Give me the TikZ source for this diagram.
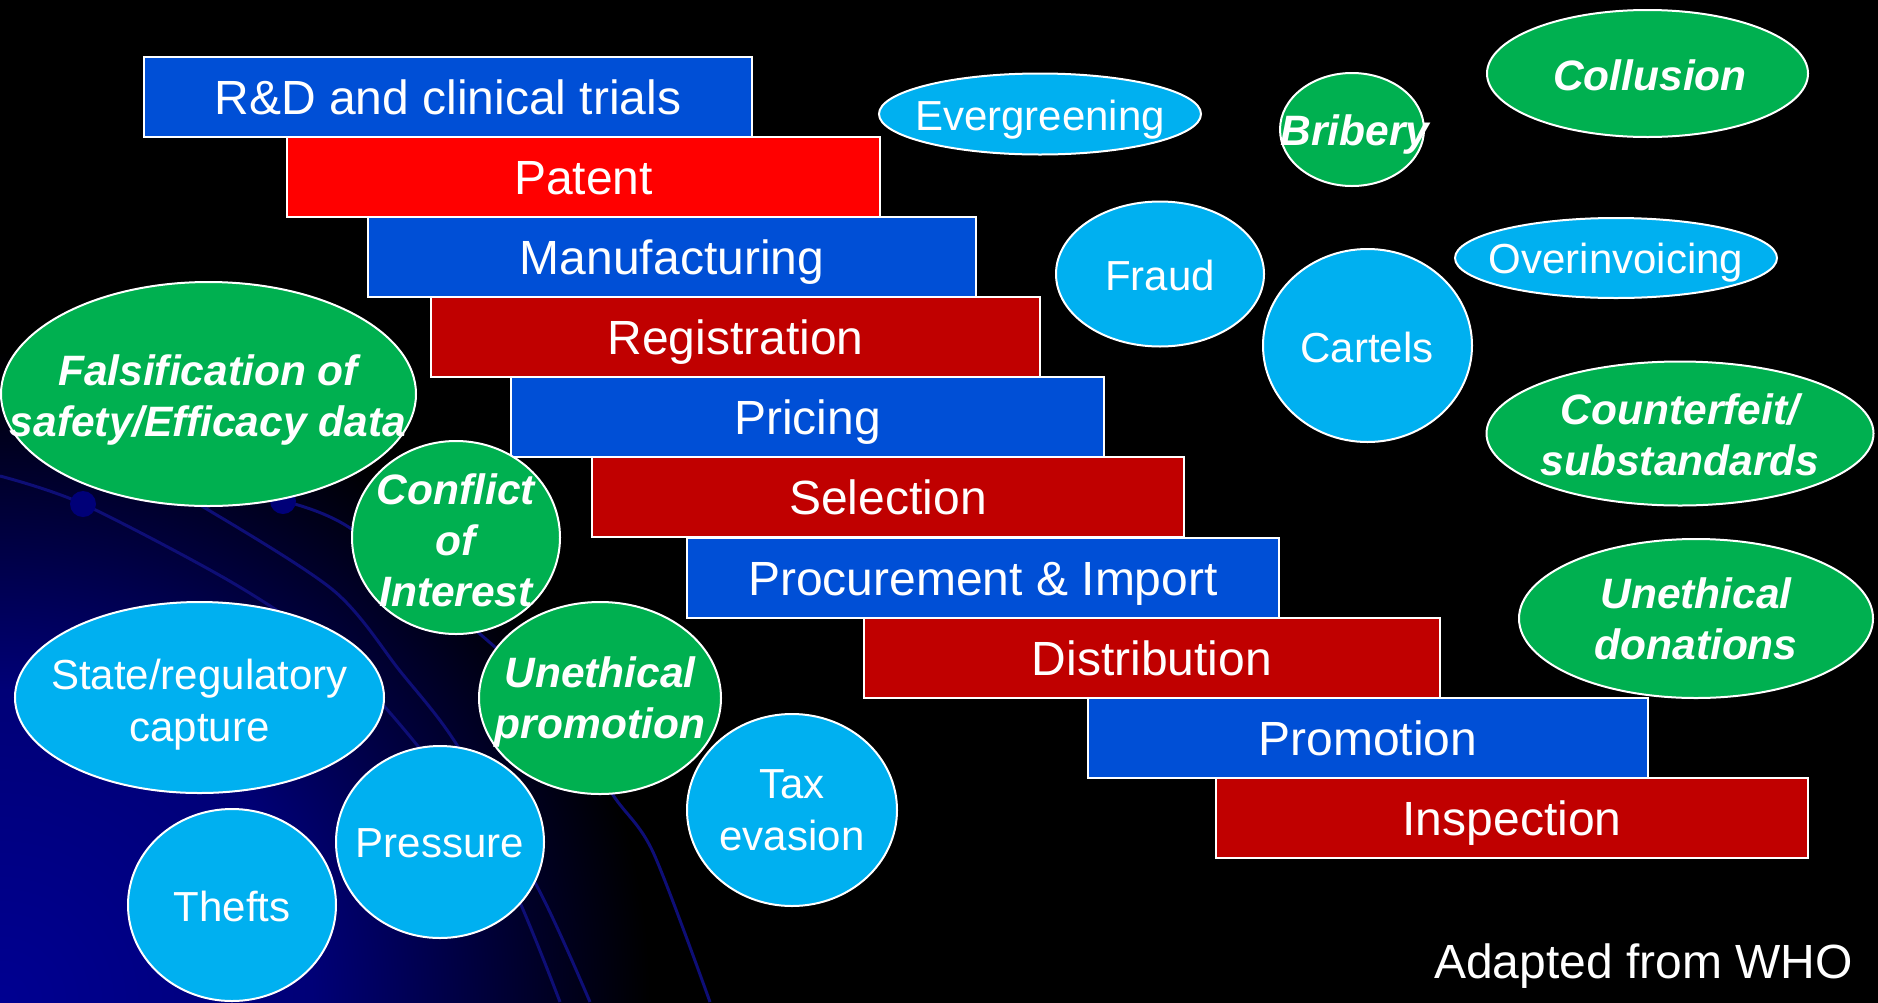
\documentclass[tikz,border=0pt]{standalone}
\usepackage{fontspec}
\setmainfont{Liberation Sans}
\usetikzlibrary{shapes.geometric}

\definecolor{stageblue}{RGB}{0,79,214}
\definecolor{stagered}{RGB}{192,0,0}
\definecolor{patentred}{RGB}{255,0,0}
\definecolor{riskcyan}{RGB}{0,176,240}
\definecolor{riskgreen}{RGB}{0,176,80}
\definecolor{glownavy}{RGB}{0,0,145}
\definecolor{swooshnavy}{RGB}{14,14,118}
\definecolor{dotnavy}{RGB}{0,0,120}

% navy glow spreading from the lower left corner
\pgfdeclareradialshading{cornerglow}{\pgfpoint{0bp}{0bp}}{%
  color(0bp)=(glownavy); color(12bp)=(glownavy!82!black);
  color(25bp)=(black); color(50bp)=(black)}

\begin{document}
\begin{tikzpicture}[x=1pt,y=-1pt,
  stage/.style={rectangle, draw=white, line width=2pt, inner sep=0pt,
    minimum height=80pt, text=white, font=\fontsize{48}{56}\selectfont,
    text height=34.4pt, text depth=0pt},
  risk/.style 2 args={ellipse, draw=white, line width=2pt, inner sep=0pt,
    minimum width=#1pt, minimum height=#2pt},
  cyanrisk/.style={fill=riskcyan},
  greenrisk/.style={fill=riskgreen},
  plainlabel/.style={text=white, align=center, inner sep=0pt,
    font=\fontsize{42}{52}\selectfont},
  stronglabel/.style={text=white, align=center, inner sep=0pt,
    font=\fontsize{42.5}{51}\selectfont\bfseries\itshape},
  swoosh/.style={draw=swooshnavy, line width=3pt}
]
\useasboundingbox (0,0) rectangle (1878,1002);

% ---- background ----
\fill[black] (-4,-4) rectangle (1882,1006);
\begin{scope}
  \clip (0,0) rectangle (1878,1002);
  \shade[shading=cornerglow] (0,1002) circle [radius=650pt];
  \draw[swoosh] plot[smooth] coordinates
    {(0,476) (83,504) (233,583) (330,650) (417,745) (500,860) (560,1002)};
  \draw[swoosh] plot[smooth] coordinates
    {(150,480) (200,505) (333,590) (400,671) (457,745) (540,892) (590,1002)};
  \draw[swoosh] plot[smooth] coordinates
    {(283,501) (350,528) (480,634) (560,710) (613,795) (653,852) (710,1002)};
  \fill[dotnavy] (83,504) circle [radius=13pt];
  \fill[dotnavy] (283,501) circle [radius=13pt];
\end{scope}

% ---- supply chain stages ----
\node[stage, fill=stageblue, minimum width=608pt] (rnd)  at (448,97)    {R\&D and clinical trials};
\node[stage, fill=patentred, minimum width=593pt] (pat)  at (583.5,177) {Patent};
\node[stage, fill=stageblue, minimum width=608pt] (man)  at (672,257)   {Manufacturing};
\node[stage, fill=stagered,  minimum width=609pt] (reg)  at (735.5,337) {Registration};
\node[stage, fill=stageblue, minimum width=593pt] (pri)  at (807.5,417) {Pricing};
\node[stage, fill=stagered,  minimum width=592pt] (sel)  at (888,497)   {Selection};
\node[stage, fill=stageblue, minimum width=592pt] (pro)  at (983,578)   {Procurement \& Import};
\node[stage, fill=stagered,  minimum width=576pt] (dis)  at (1152,658)  {Distribution};
\node[stage, fill=stageblue, minimum width=560pt] (prm)  at (1368,738)  {Promotion};
\node[stage, fill=stagered,  minimum width=592pt] (ins)  at (1512,818)  {Inspection};

% ---- risks ----
\node[risk={322}{81},  cyanrisk]  (ever)  at (1040,114)     {};
\node[risk={144}{113}, greenrisk] (brib)  at (1352,129.5)   {};
\node[risk={321}{127}, greenrisk] (coll)  at (1647.5,73.5)  {};
\node[risk={208}{145}, cyanrisk]  (frau)  at (1160,274)     {};
\node[risk={322}{80},  cyanrisk]  (over)  at (1616,258)     {};
\node[risk={209}{193}, cyanrisk]  (cart)  at (1367.5,345.5) {};
\node[risk={415}{224}, greenrisk] (fals)  at (208.5,394)    {};
\node[risk={387}{144}, greenrisk] (coun)  at (1680,433.5)   {};
\node[risk={208}{193}, greenrisk] (conf)  at (456,537.5)    {};
\node[risk={354}{159}, greenrisk] (dona)  at (1696,618.5)   {};
\node[risk={369}{191}, cyanrisk]  (stat)  at (199.5,697.5)  {};
\node[risk={242}{192}, greenrisk] (unpr)  at (600,698)      {};
\node[risk={210}{192}, cyanrisk]  (taxe)  at (792,810)      {};
\node[risk={208}{192}, cyanrisk]  (pres)  at (440,842)      {};
\node[risk={208}{192}, cyanrisk]  (thef)  at (232,905)      {};

% ---- risk labels ----
\node[plainlabel]  (ever-t) at (1040,119.5) {Evergreening};
\node[stronglabel] (brib-t) at (1355,135)   {Bribery};
\node[stronglabel] (coll-t) at (1650,75)    {Collusion};
\node[plainlabel]  (frau-t) at (1160,275)   {Fraud};
\node[plainlabel]  (over-t) at (1616,262.5) {Overinvoicing};
\node[plainlabel]  (cart-t) at (1367,347)   {Cartels};
\node[stronglabel] (fals-t) at (208,400)    {Falsification of\\safety/Efficacy data};
\node[stronglabel] (coun-t) at (1680,435)   {Counterfeit/\\substandards};
\node[stronglabel] (conf-t) at (456,540)    {Conflict\\of\\Interest};
\node[stronglabel] (dona-t) at (1696,619)   {Unethical\\donations};
\node[plainlabel]  (stat-t) at (199.5,704.5){State/regulatory\\capture};
\node[stronglabel] (unpr-t) at (600,702)    {Unethical\\promotion};
\node[plainlabel]  (taxe-t) at (792,810)    {Tax\\evasion};
\node[plainlabel]  (pres-t) at (440,843)    {Pressure};
\node[plainlabel]  (thef-t) at (232,906)    {Thefts};

% ---- source ----
\node[text=white, inner sep=0pt, font=\fontsize{48}{56}\selectfont] (src) at (1643.5,966.5) {Adapted from WHO};
\end{tikzpicture}
\end{document}
